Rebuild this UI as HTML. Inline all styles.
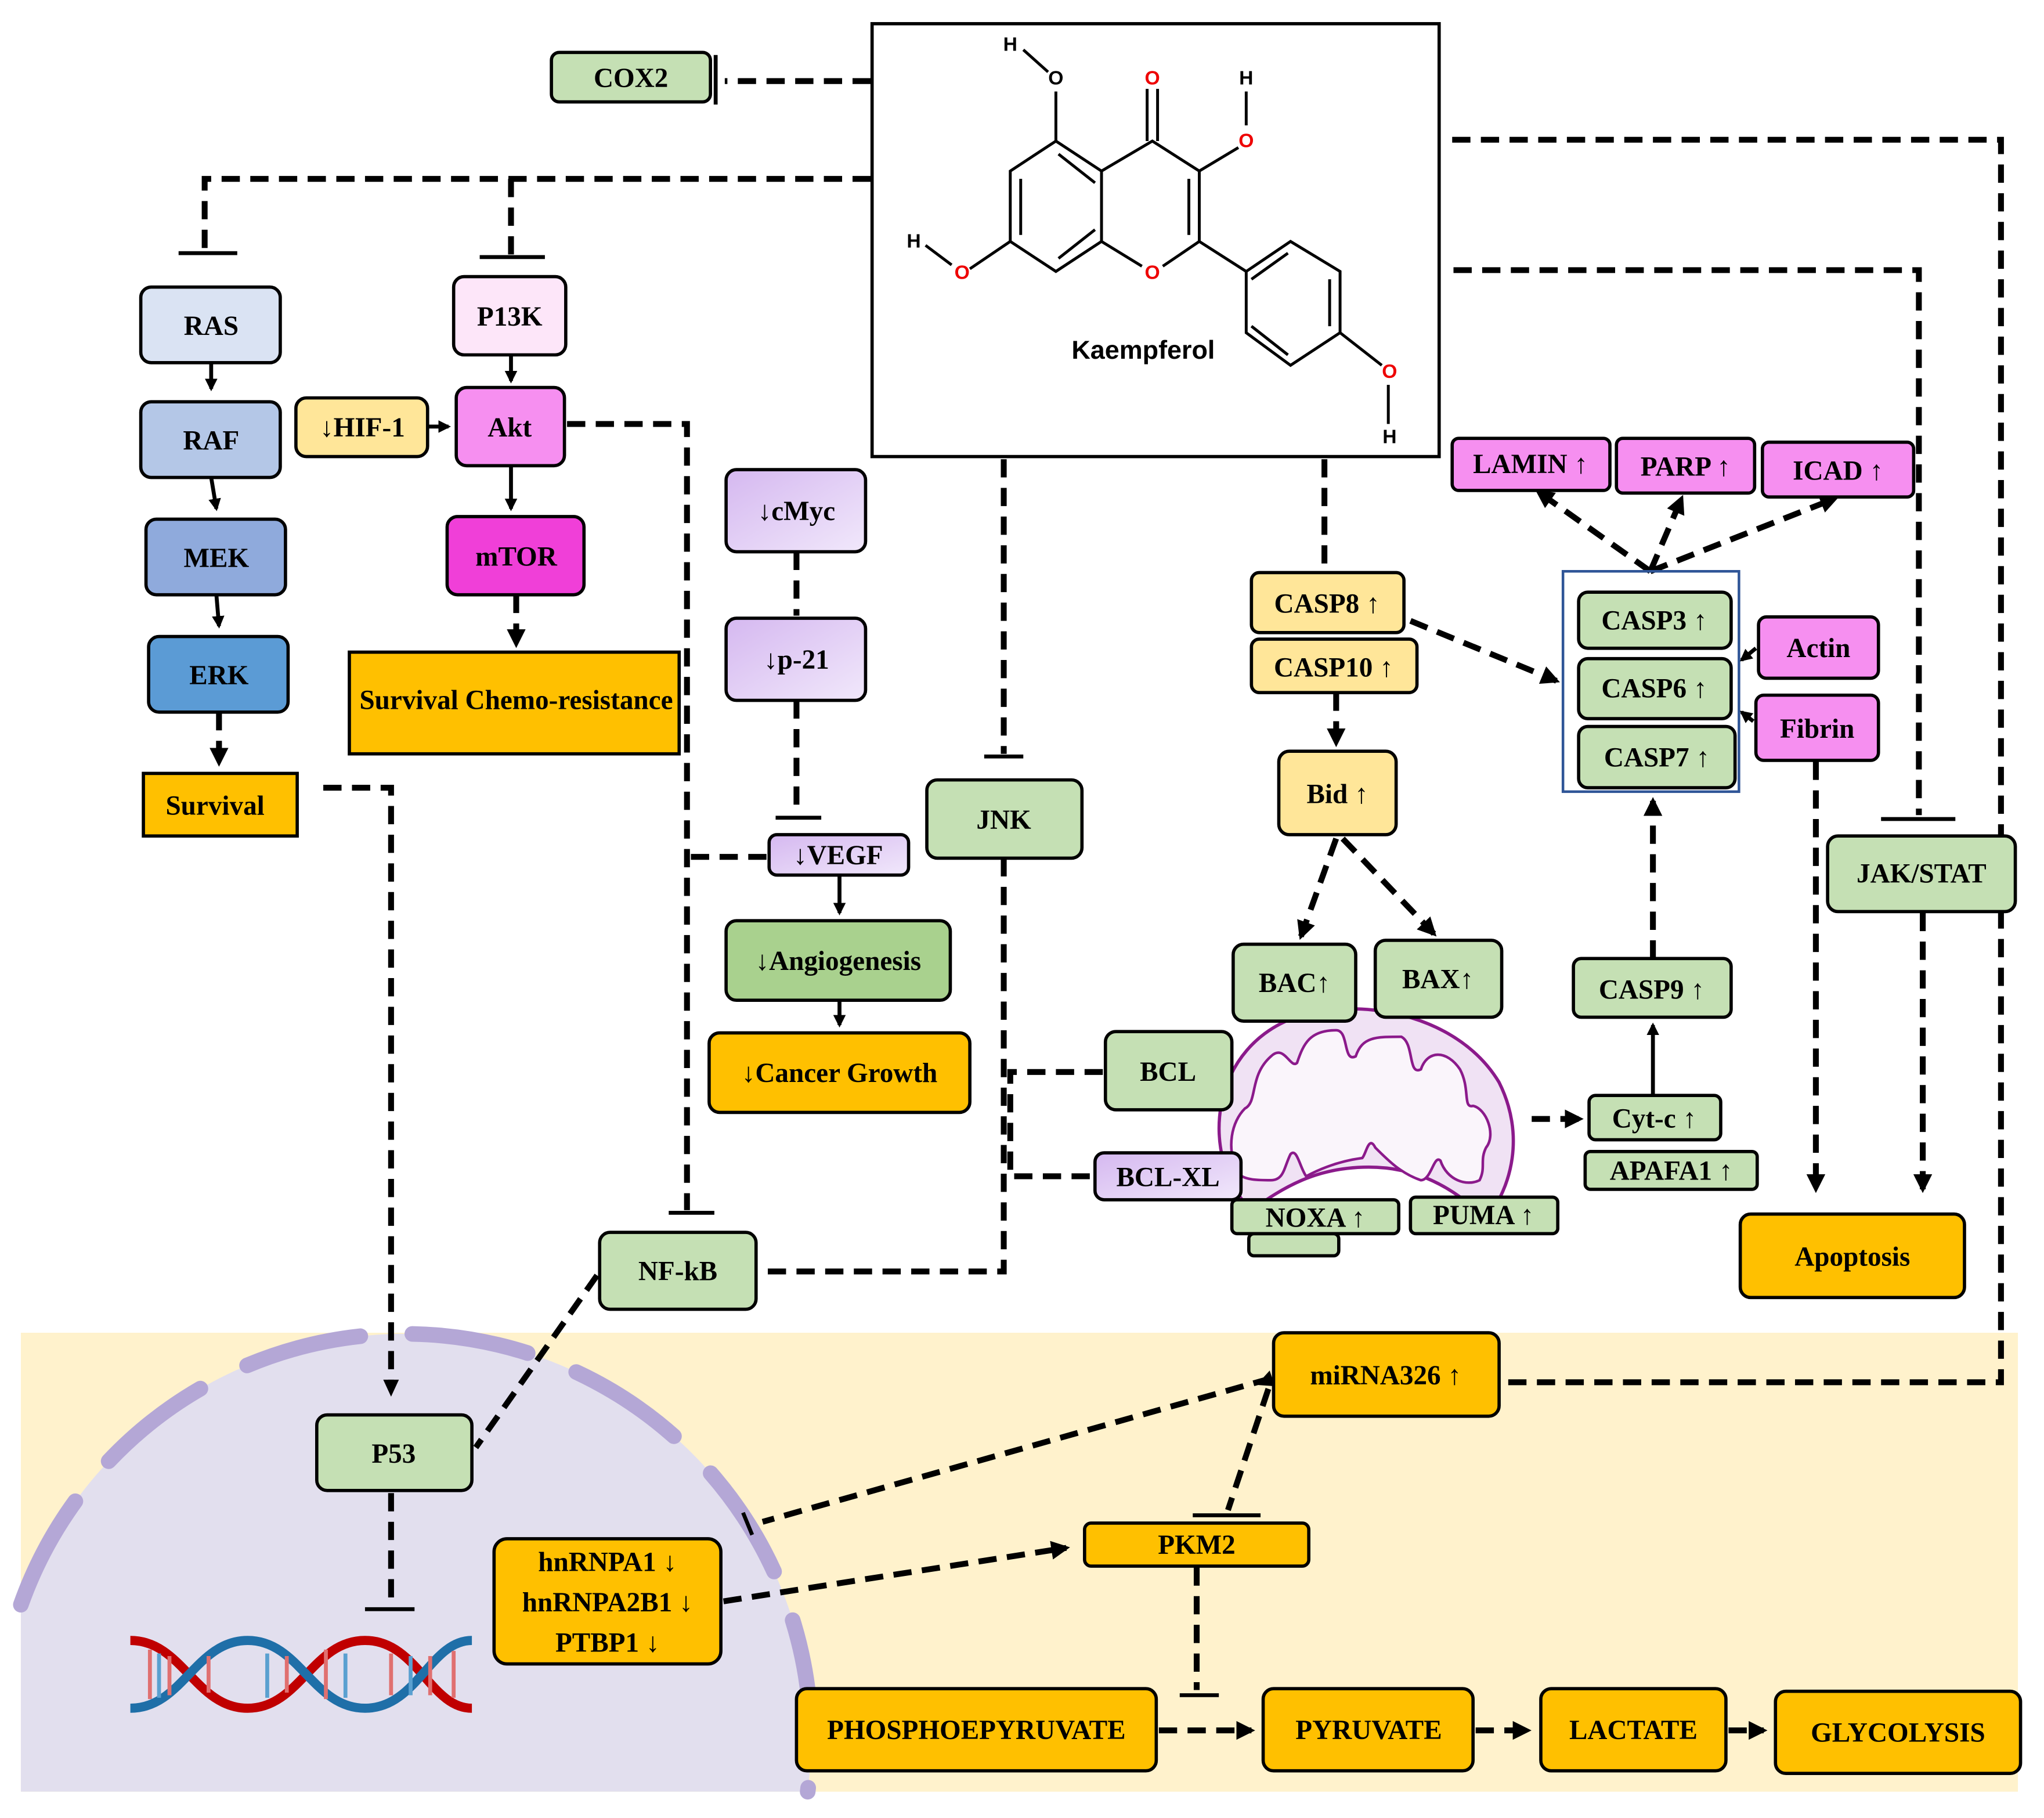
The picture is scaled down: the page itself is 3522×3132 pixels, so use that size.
<!DOCTYPE html>
<html><head><meta charset="utf-8"><style>
html,body{margin:0;padding:0;background:#fff;width:3522px;height:3132px;overflow:hidden}
svg{display:block}
.t{font-family:"Liberation Serif",serif;font-weight:bold;font-size:21px;text-anchor:middle;dominant-baseline:central;fill:#000}
.b{stroke:#000;stroke-width:2.5}
.d{stroke:#000;stroke-width:4.5;stroke-dasharray:14 8;fill:none}
.s{stroke:#000;stroke-width:3;fill:none}
.m{stroke:#000;stroke-width:2.2;fill:none}
.o{font-family:"Liberation Sans",sans-serif;font-size:15px;text-anchor:middle;dominant-baseline:central;font-weight:bold}
</style></head><body>
<svg width="3522" height="3132" viewBox="0 0 1568 1394" xmlns="http://www.w3.org/2000/svg">
<defs>
<marker id="a" viewBox="0 0 10 10" refX="8" refY="5" markerWidth="3.2" markerHeight="3.2" orient="auto"><path d="M0,0 L10,5 L0,10 z" fill="#000"/></marker>
<linearGradient id="pg" x1="0" y1="0" x2="1" y2="1"><stop offset="0" stop-color="#d5b8f0"/><stop offset="1" stop-color="#f1e8fb"/></linearGradient>
</defs>
<rect width="1568" height="1394" fill="#fff"/>
<rect x="16" y="1022" width="1532" height="352" fill="#fff2cc"/>
<path d="M16,1374 V1230.6 A312,312 0 0 1 619.6,1374 Z" fill="#e2dfee"/>
<path d="M16,1230.6 A312,312 0 0 1 619.6,1374" fill="none" stroke="#b4a7d6" stroke-width="12" stroke-dasharray="90 40" stroke-linecap="round"/>
<g fill="none" stroke-width="7">
<path d="M100,1258 C140,1258 150,1310 190,1310 C230,1310 240,1258 280,1258 C320,1258 330,1310 362,1310" stroke="#c00000"/>
<path d="M100,1310 C140,1310 150,1258 190,1258 C230,1258 240,1310 280,1310 C320,1310 330,1258 362,1258" stroke="#1f6fa8"/>
<g stroke-width="3"><path d="M115,1265v38M130,1270v30M160,1270v28M220,1270v28M250,1265v38M300,1268v32M330,1270v30M348,1266v36" stroke="#e07070"/><path d="M122,1268v34M205,1268v34M265,1268v34M315,1270v30" stroke="#5aa0d0"/></g>
</g>
<rect x="669" y="18" width="435" height="332" fill="#fff" stroke="#000" stroke-width="2.5"/>
<g class="m">
<path d="M810,70 V108"/>
<path d="M810,108 L775,131 V185 L810,208 L845,185 V131 Z"/>
<path d="M783,137V180M812,118L840,140M812,198L840,176"/>
<path d="M845,131 L884,108 L920,131 V185 L892,204 M876,204 L845,185"/>
<path d="M880,108V68M888,108V68M912,137V180"/>
<path d="M920,131 L950,113 M956,96V70 M920,185 L956,208"/>
<path d="M956,208 L990,185 L1028,208 V255 L990,280 L956,255 Z"/>
<path d="M960,214L988,194M1020,214V250M960,250L988,272"/>
<path d="M775,185 L744,206 M730,203 L710,188 M804,55 L785,38 M1028,255 L1060,280 M1065,295V325"/>
</g>
<text class="o" x="810" y="60">O</text><text class="o" x="775" y="34">H</text>
<text class="o" x="884" y="60" fill="#e00">O</text>
<text class="o" x="956" y="108" fill="#e00">O</text><text class="o" x="956" y="60">H</text>
<text class="o" x="884" y="209" fill="#e00">O</text>
<text class="o" x="738" y="209" fill="#e00">O</text><text class="o" x="701" y="185">H</text>
<text class="o" x="1066" y="285" fill="#e00">O</text><text class="o" x="1066" y="335">H</text>
<text x="877" y="268" style="font-family:'Liberation Sans',sans-serif;font-weight:bold;font-size:20px;text-anchor:middle;dominant-baseline:central">Kaempferol</text>

<g>
<path class="d" d="M668,62H556"/><path class="s" d="M549,42V80" stroke-width="4"/>
<path class="d" d="M668,137H157V193"/><path class="s" stroke-width="4" d="M137,194H182"/>
<path class="d" d="M392,137V196"/><path class="s" stroke-width="4" d="M368,197H418"/>
<path class="d" d="M435,325H527V928"/><path class="s" stroke-width="4" d="M513,930H548"/>
<path class="d" d="M588,657H527"/>
<path class="d" d="M611,423V472"/><path class="d" d="M611,537V625"/><path class="s" stroke-width="4" d="M595,627H630"/>
<path class="d" d="M770,352V578"/><path class="s" stroke-width="4" d="M755,580H785"/>
<path class="d" d="M770,658V975H585"/>
<path class="d" d="M846,822H775V902H838"/>
<path class="d" d="M1016,352V436"/>
<path class="d" d="M1114,107H1535V1060H1153"/>
<path class="d" d="M1115,207H1472V625"/><path class="s" stroke-width="4" d="M1443,628H1500"/>
<path class="d" d="M248,604H300V1062" /><path d="M294,1058L306,1058L300,1071Z"/>
<path class="d" d="M458,978L365,1110"/>
<path class="d" d="M300,1145V1230"/><path class="s" stroke-width="4" d="M280,1234H318"/>
<path class="d" d="M975,1057L585,1167"/><path class="s" stroke-width="3" d="M570,1160L577,1177"/>
<path d="M974,1051L978,1063L964,1062Z"/>
<path class="d" d="M973,1065L942,1158"/><path class="s" stroke-width="4" d="M915,1162H967"/>
<path class="d" d="M555,1228L818,1187" marker-end="url(#a)"/>
<path class="d" d="M918,1202V1296"/><path class="s" stroke-width="4" d="M905,1300H935"/>
<path class="d" d="M889,1327H960" marker-end="url(#a)"/>
<path class="d" d="M1132,1327H1172" marker-end="url(#a)"/>
<path class="d" d="M1326,1327H1353" marker-end="url(#a)"/>
<path class="s" d="M162,278V298" marker-end="url(#a)"/>
<path class="s" d="M162,366L166,390" marker-end="url(#a)"/>
<path class="s" d="M166,456L168,480" marker-end="url(#a)"/>
<path class="d" d="M168,546V585" marker-end="url(#a)"/>
<path class="s" d="M392,272V292" marker-end="url(#a)"/>
<path class="s" d="M328,327H344" marker-end="url(#a)"/>
<path class="s" d="M392,357V390" marker-end="url(#a)"/>
<path class="d" d="M396,456V494" marker-end="url(#a)"/>
<path class="s" d="M644,671V700" marker-end="url(#a)"/>
<path class="s" d="M644,767V786" marker-end="url(#a)"/>
<path class="d" d="M1025,531V570" marker-end="url(#a)"/>
<path class="d" d="M1025,643L998,718" marker-end="url(#a)"/>
<path class="d" d="M1030,643L1100,716" marker-end="url(#a)"/>
<path class="d" d="M1082,476L1194,522" marker-end="url(#a)"/>
<path class="d" d="M1266,438L1180,377" marker-end="url(#a)"/>
<path class="d" d="M1266,438L1290,382" marker-end="url(#a)"/>
<path class="d" d="M1266,438L1408,382" marker-end="url(#a)"/>
<path class="d" d="M1175,858H1212" marker-end="url(#a)"/>
<path class="s" d="M1268,840V786" marker-end="url(#a)"/>
<path class="d" d="M1268,735V614" marker-end="url(#a)"/>
<path class="d" d="M1393,584V912" marker-end="url(#a)"/>
<path class="d" d="M1475,700V912" marker-end="url(#a)"/>
<path class="s" d="M1347,497L1336,506" marker-end="url(#a)"/>
<path class="s" d="M1345,553L1336,546" marker-end="url(#a)"/>
</g>

<path d="M960,928 C920,890 925,800 1000,778 C1050,765 1120,780 1150,830 C1170,870 1160,910 1140,935 C1110,905 1080,895 1050,895 C1010,895 985,910 960,928 Z" fill="#f0e2f4" stroke="#8b1a8b" stroke-width="2.5"/>
<path d="M950,900 C940,880 945,860 955,850 C965,845 958,825 975,810 C985,800 990,820 995,815 C1000,800 1005,790 1025,790 C1035,790 1030,815 1040,810 C1045,795 1055,795 1075,795 C1085,800 1080,825 1090,820 C1095,805 1110,805 1120,820 C1128,835 1122,850 1130,848 C1140,850 1148,870 1140,880 C1135,890 1140,895 1135,905 C1125,910 1110,905 1105,890 C1100,885 1098,905 1090,905 C1075,900 1065,890 1055,880 C1050,870 1048,885 1045,888 C1030,890 1015,895 1002,902 C997,895 995,880 990,885 C985,895 985,905 975,905 C965,905 955,905 950,900 Z" fill="#faf5fb" stroke="#8b1a8b" stroke-width="2"/>

<g class="b">
<rect x="423" y="40" width="122" height="38" rx="6" fill="#c5e0b4"/>
<rect x="108" y="220" width="107" height="58" rx="8" fill="#dae3f3"/>
<rect x="108" y="308" width="107" height="58" rx="8" fill="#b4c7e7"/>
<rect x="112" y="398" width="107" height="58" rx="8" fill="#8faadc"/>
<rect x="114" y="488" width="107" height="58" rx="8" fill="#5b9bd5"/>
<rect x="110" y="593" width="118" height="48" fill="#ffc000"/>
<rect x="348" y="212" width="86" height="60" rx="8" fill="#fde6f9"/>
<rect x="350" y="297" width="83" height="60" rx="8" fill="#f68ff0"/>
<rect x="227" y="305" width="101" height="45" rx="8" fill="#ffe699"/>
<rect x="343" y="396" width="105" height="60" rx="8" fill="#f03fd8"/>
<rect x="268" y="500" width="253" height="78" fill="#ffc000"/>
<rect x="557" y="360" width="107" height="63" rx="8" fill="url(#pg)"/>
<rect x="557" y="474" width="107" height="63" rx="8" fill="url(#pg)"/>
<rect x="590" y="640" width="107" height="31" rx="6" fill="url(#pg)"/>
<rect x="557" y="706" width="172" height="61" rx="8" fill="#a9d18e"/>
<rect x="544" y="792" width="200" height="61" rx="8" fill="#ffc000"/>
<rect x="711" y="598" width="119" height="60" rx="8" fill="#c5e0b4"/>
<rect x="460" y="945" width="120" height="59" rx="8" fill="#c5e0b4"/>
<rect x="848" y="791" width="97" height="60" rx="8" fill="#c5e0b4"/>
<rect x="840" y="884" width="112" height="36" rx="7" fill="url(#pg)"/>
<rect x="946" y="724" width="94" height="59" rx="8" fill="#c5e0b4"/>
<rect x="1055" y="721" width="97" height="59" rx="8" fill="#c5e0b4"/>
<rect x="958" y="946" width="69" height="17" rx="4" fill="#c5e0b4"/>
<rect x="945" y="920" width="128" height="26" rx="4" fill="#c5e0b4"/>
<rect x="1082" y="918" width="113" height="28" rx="4" fill="#c5e0b4"/>
<rect x="960" y="439" width="117" height="46" rx="6" fill="#ffe699"/>
<rect x="960" y="490" width="127" height="41" rx="6" fill="#ffe699"/>
<rect x="981" y="576" width="90" height="64" rx="8" fill="#ffe699"/>
<rect x="1211" y="454" width="117" height="43" rx="7" fill="#c5e0b4"/>
<rect x="1211" y="505" width="117" height="46" rx="7" fill="#c5e0b4"/>
<rect x="1211" y="557" width="120" height="47" rx="7" fill="#c5e0b4"/>
<rect x="1349" y="473" width="92" height="47" rx="6" fill="#f68ff0"/>
<rect x="1347" y="533" width="94" height="50" rx="6" fill="#f68ff0"/>
<rect x="1114" y="336" width="121" height="40" rx="5" fill="#f68ff0"/>
<rect x="1240" y="336" width="106" height="42" rx="5" fill="#f68ff0"/>
<rect x="1352" y="339" width="116" height="42" rx="5" fill="#f68ff0"/>
<rect x="1207" y="735" width="121" height="45" rx="6" fill="#c5e0b4"/>
<rect x="1219" y="840" width="101" height="34" rx="5" fill="#c5e0b4"/>
<rect x="1216" y="883" width="132" height="29" rx="4" fill="#c5e0b4"/>
<rect x="1402" y="641" width="144" height="58" rx="8" fill="#c5e0b4"/>
<rect x="1335" y="931" width="172" height="64" rx="8" fill="#ffc000"/>
<rect x="243" y="1085" width="119" height="58" rx="8" fill="#c5e0b4"/>
<rect x="379" y="1180" width="174" height="96" rx="10" fill="#ffc000"/>
<rect x="977" y="1022" width="173" height="64" rx="8" fill="#ffc000"/>
<rect x="832" y="1168" width="172" height="33" rx="5" fill="#ffc000"/>
<rect x="611" y="1295" width="276" height="63" rx="8" fill="#ffc000"/>
<rect x="969" y="1295" width="161" height="63" rx="8" fill="#ffc000"/>
<rect x="1182" y="1295" width="142" height="63" rx="8" fill="#ffc000"/>
<rect x="1362" y="1297" width="188" height="63" rx="8" fill="#ffc000"/>
</g>
<rect x="1199" y="438" width="135" height="169" fill="none" stroke="#2f5597" stroke-width="2"/>

<g class="t">
<text x="484" y="60">COX2</text>
<text x="162" y="250">RAS</text><text x="162" y="338">RAF</text><text x="166" y="428">MEK</text><text x="168" y="518">ERK</text>
<text x="165" y="618">Survival</text>
<text x="391" y="243">P13K</text><text x="391" y="328">Akt</text><text x="278" y="328">↓HIF-1</text>
<text x="396" y="427">mTOR</text><text x="396" y="537">Survival Chemo-resistance</text>
<text x="611" y="392">↓cMyc</text><text x="611" y="506">↓p-21</text><text x="643" y="656">↓VEGF</text>
<text x="643" y="737">↓Angiogenesis</text><text x="644" y="823">↓Cancer Growth</text>
<text x="770" y="629">JNK</text><text x="520" y="975">NF-kB</text>
<text x="896" y="822">BCL</text><text x="896" y="903">BCL-XL</text>
<text x="993" y="754">BAC↑</text><text x="1103" y="751">BAX↑</text>
<text x="1009" y="934">NOXA ↑</text><text x="1138" y="932">PUMA ↑</text>
<text x="1018" y="463">CASP8 ↑</text><text x="1023" y="512">CASP10 ↑</text><text x="1026" y="609">Bid ↑</text>
<text x="1269" y="476">CASP3 ↑</text><text x="1269" y="528">CASP6 ↑</text><text x="1271" y="581">CASP7 ↑</text>
<text x="1395" y="497">Actin</text><text x="1394" y="559">Fibrin</text>
<text x="1174" y="356">LAMIN ↑</text><text x="1293" y="358">PARP ↑</text><text x="1410" y="361">ICAD ↑</text>
<text x="1267" y="759">CASP9 ↑</text><text x="1269" y="858">Cyt-c ↑</text><text x="1282" y="898">APAFA1 ↑</text>
<text x="1474" y="670">JAK/STAT</text><text x="1421" y="964">Apoptosis</text>
<text x="302" y="1115">P53</text>
<text x="466" y="1198">hnRNPA1 ↓</text><text x="466" y="1229">hnRNPA2B1 ↓</text><text x="466" y="1260">PTBP1 ↓</text>
<text x="1063" y="1055">miRNA326 ↑</text><text x="918" y="1185">PKM2</text>
<text x="749" y="1327">PHOSPHOEPYRUVATE</text><text x="1050" y="1327">PYRUVATE</text>
<text x="1253" y="1327">LACTATE</text><text x="1456" y="1329">GLYCOLYSIS</text>
</g>
</svg>
</body></html>
